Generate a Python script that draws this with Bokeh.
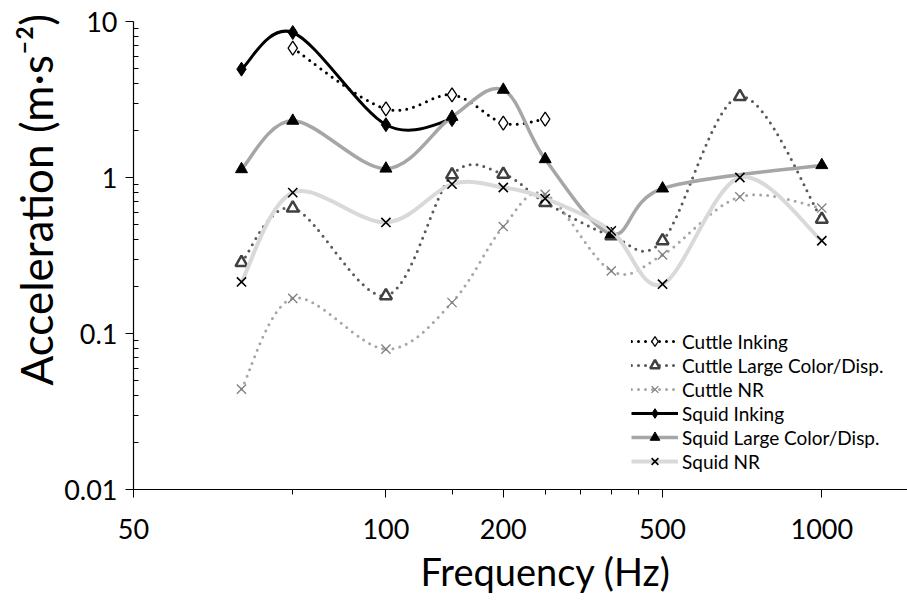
import numpy as np
from bokeh.plotting import figure
from bokeh.models import Range1d, FixedTicker, CustomJSTickFormatter, Legend, LegendItem, Title
from bokeh.embed import file_html
from bokeh.resources import INLINE

# ---------------- data ----------------
freq_all = [80, 100, 150, 200, 250, 300, 400, 500, 700, 1000]

cuttle_inking_f = [100, 150, 200, 250, 300]
cuttle_inking = [6.75, 2.75, 3.39, 2.23, 2.37]

cuttle_large_f = freq_all
cuttle_large = [0.285, 0.637, 0.1745, 1.04, 1.05, 0.692, 0.423, 0.393, 3.3, 0.54]

cuttle_nr_f = freq_all
cuttle_nr = [0.044, 0.168, 0.0794, 0.158, 0.485, 0.78, 0.252, 0.319, 0.752, 0.637]

squid_inking_f = [80, 100, 150, 200]
squid_inking = [4.95, 8.5, 2.18, 2.35]

squid_large_f = [80, 100, 150, 200, 250, 300, 400, 500, 1000]
squid_large = [1.13, 2.31, 1.14, 2.45, 3.65, 1.31, 0.434, 0.85, 1.2]

squid_nr_f = freq_all
squid_nr = [0.214, 0.80, 0.515, 0.907, 0.863, 0.733, 0.455, 0.207, 1.0, 0.393]

x_tick_values = [50, 150, 250, 500, 1000]
x_tick_labels = ["50", "100", "200", "500", "1000"]
x_minor_ticks = [100, 200, 300, 350, 400, 450, 1500]
y_tick_values = [0.01, 0.1, 1, 10]
y_tick_labels = ["0.01", "0.1", "1", "10"]
y_minor_ticks = [m * d for d in (0.01, 0.1, 1) for m in range(2, 10)]

x_title = "Frequency (Hz)"
y_title = "Acceleration (m·s⁻²)"

FONT = "Lato"


def smooth_segments(fx, vy):
    """Excel-style smoothed line: cubic Bezier control points computed in
    the (log, log) plotting space from the neighbouring data points."""
    lx = np.log10(np.asarray(fx, dtype=float))
    ly = np.log10(np.asarray(vy, dtype=float))
    n = len(lx)
    out = {k: [] for k in ("x0", "y0", "x1", "y1", "cx0", "cy0", "cx1", "cy1")}
    for i in range(n - 1):
        ip = max(i - 1, 0)
        inx = min(i + 2, n - 1)
        c0x = lx[i] + (lx[i + 1] - lx[ip]) / 6.0
        c0y = ly[i] + (ly[i + 1] - ly[ip]) / 6.0
        c1x = lx[i + 1] - (lx[inx] - lx[i]) / 6.0
        c1y = ly[i + 1] - (ly[inx] - ly[i]) / 6.0
        out["x0"].append(10 ** lx[i]); out["y0"].append(10 ** ly[i])
        out["x1"].append(10 ** lx[i + 1]); out["y1"].append(10 ** ly[i + 1])
        out["cx0"].append(10 ** c0x); out["cy0"].append(10 ** c0y)
        out["cx1"].append(10 ** c1x); out["cy1"].append(10 ** c1y)
    return out


p = figure(
    width=907, height=602,
    x_axis_type="log", y_axis_type="log",
    x_range=Range1d(50, 1452), y_range=Range1d(0.01, 10),
    min_border_left=133, min_border_right=0,
    min_border_top=21, min_border_bottom=113,
    output_backend="svg", toolbar_location=None,
    background_fill_color="white", border_fill_color="white",
)
p.outline_line_color = None
p.grid.visible = False

series = [
    # name, freqs, values, line style, marker style
    ("Cuttle Inking", cuttle_inking_f, cuttle_inking,
     dict(line_color="black", line_width=3, line_dash="0 7", line_cap="round"),
     dict(marker="diamond", size=14, fill_color="white",
          line_color="black", line_width=1.3)),
    ("Cuttle Large Color/Disp.", cuttle_large_f, cuttle_large,
     dict(line_color="#595959", line_width=3, line_dash="0 7", line_cap="round"),
     dict(marker="triangle", size=12, fill_color="white",
          line_color="#404040", line_width=2.5)),
    ("Cuttle NR", cuttle_nr_f, cuttle_nr,
     dict(line_color="#a6a6a6", line_width=3, line_dash="0 7", line_cap="round"),
     dict(marker="x", size=13, line_color="#7f7f7f", line_width=1.3)),
    ("Squid Inking", squid_inking_f, squid_inking,
     dict(line_color="black", line_width=3),
     dict(marker="diamond", size=14, fill_color="black",
          line_color="black", line_width=1)),
    ("Squid Large Color/Disp.", squid_large_f, squid_large,
     dict(line_color="#a6a6a6", line_width=3.5),
     dict(marker="triangle", size=12, fill_color="black",
          line_color="black", line_width=1)),
    ("Squid NR", squid_nr_f, squid_nr,
     dict(line_color="#d9d9d9", line_width=4),
     dict(marker="x", size=13, line_color="black", line_width=1.6)),
]

items = []
for name, fx, vy, lstyle, mstyle in series:
    seg = smooth_segments(fx, vy)
    br = p.bezier(x0="x0", y0="y0", x1="x1", y1="y1",
                  cx0="cx0", cy0="cy0", cx1="cx1", cy1="cy1",
                  source=seg, **lstyle)
    sc = p.scatter(x=list(fx), y=list(vy), **mstyle)
    items.append(LegendItem(label=name, renderers=[br, sc]))

legend = Legend(items=items, location=(498, 16))
legend.glyph_width = 47
legend.glyph_height = 24
legend.label_height = 24
legend.spacing = 0
legend.padding = 0
legend.margin = 0
legend.label_standoff = 4
legend.label_text_font = FONT
legend.label_text_font_size = "19px"
legend.label_text_color = "black"
legend.background_fill_alpha = 0
legend.border_line_color = None
p.add_layout(legend)

# ---------------- axes ----------------
xa = p.xaxis[0]
xa.ticker = FixedTicker(ticks=x_tick_values, minor_ticks=x_minor_ticks)
xa.formatter = CustomJSTickFormatter(
    args=dict(vals=x_tick_values, labs=x_tick_labels),
    code="const i = vals.indexOf(tick); return i >= 0 ? labs[i] : '';")
ya = p.yaxis[0]
ya.ticker = FixedTicker(ticks=y_tick_values, minor_ticks=y_minor_ticks)
ya.formatter = CustomJSTickFormatter(
    args=dict(vals=y_tick_values, labs=y_tick_labels),
    code="let best = 0; let d = 1e9; for (let i = 0; i < vals.length; i++) {"
         " const e = Math.abs(Math.log10(vals[i]) - Math.log10(tick));"
         " if (e < d) { d = e; best = i; } } return labs[best];")

for ax in (xa, ya):
    ax.axis_line_color = "black"
    ax.axis_line_width = 1.2
    ax.major_tick_line_color = "black"
    ax.minor_tick_line_color = "black"
    ax.major_label_text_font = FONT
    ax.major_label_text_font_size = "27px"
    ax.major_label_text_color = "black"

xa.major_tick_out = 8
xa.major_tick_in = 0
xa.minor_tick_out = 5
xa.minor_tick_in = 0
xa.major_label_standoff = 21

ya.major_tick_out = 8
ya.major_tick_in = 0
ya.minor_tick_out = 0
ya.minor_tick_in = 5
ya.major_label_standoff = 8

# axis titles, positioned like the reference (off-centre)
p.add_layout(Title(text=x_title, align="left", offset=287, standoff=12,
                   vertical_align="top", text_font=FONT, text_font_size="38px",
                   text_font_style="normal", text_color="black"), "below")
p.add_layout(Title(text=y_title, align="left", offset=104, standoff=0,
                   vertical_align="bottom", text_font=FONT, text_font_size="44px",
                   text_font_style="normal", text_color="black"), "left")

open("out.html", "w").write(file_html(p, INLINE))
